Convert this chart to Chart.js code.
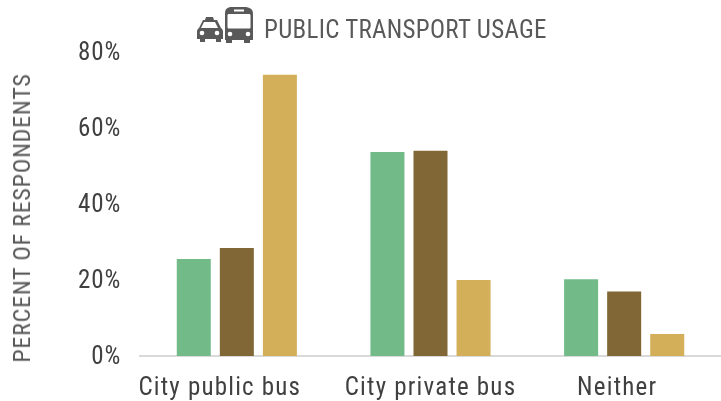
<!DOCTYPE html>
<html>
<head>
<meta charset="utf-8">
<style>
  html, body { margin: 0; padding: 0; background: #fff; }
  #wrap { position: relative; width: 721px; height: 401px; overflow: hidden; }
  canvas { position: absolute; left: 0; top: 0; }
  .label { position: absolute; font-family: "Roboto Condensed", Roboto, sans-serif; color: #595959; white-space: nowrap; }
  #title { left: 264px; top: 14px; font-size: 25px; line-height: 32px; letter-spacing: 0.3px; }
  #yTitle { left: 22px; top: 218px; font-size: 24px; line-height: 30px; letter-spacing: 0.8px; transform: translate(-50%, -50%) rotate(-90deg); }
  #icons { position: absolute; left: 196px; top: 6px; }
</style>
<script src="https://cdn.jsdelivr.net/npm/chart.js@4"></script>
</head>
<body>
<div id="wrap">
  <canvas id="chart" width="721" height="401"></canvas>
  <svg id="icons" width="60" height="38" viewBox="0 0 60 38">
    <!-- taxi -->
    <path fill="#595959" d="M10 11h7l1 3h3l4 8c1.500 1 2 2 2 4v7h-2v3h-5v-3H9v3H4v-3H1v-7c0-2 .5-3 2-4l4-8h2z"/>
    <path fill="#fff" d="M8 16h11l3 6H5z"/>
    <circle cx="6" cy="27" r="2.300" fill="#fff"/>
    <circle cx="21" cy="27" r="2.300" fill="#fff"/>
    <!-- bus -->
    <path fill="#595959" d="M36 1h12c6 0 9 2 9 7v26h-3v3h-6v-3H36v3h-6v-3h-1V8c0-5 2-7 7-7z"/>
    <rect x="38" y="3.500" width="10" height="2" fill="#fff"/>
    <path fill="#fff" d="M33 8h20c1 0 1.500 .5 1.500 1.500V21c0 1-.5 1.500-1.500 1.500H33c-1 0-1.500-.5-1.500-1.500V9.500C31.500 8.500 32 8 33 8z"/>
    <circle cx="34" cy="28" r="2.300" fill="#fff"/>
    <circle cx="52" cy="28" r="2.300" fill="#fff"/>
  </svg>
  <div id="title" class="label">PUBLIC TRANSPORT USAGE</div>
  <div id="yTitle" class="label">PERCENT OF RESPONDENTS</div>
</div>
<script>
const categories = ['City public bus', 'City private bus', 'Neither'];
const greenValues = [25.5, 53.7, 20.2];
const brownValues = [28.4, 54, 17];
const goldValues = [74, 20, 5.8];
const yTicks = [0, 20, 40, 60, 80];
const xLabelShift = [-17, 0, -7];

const tickFont = { family: '"Roboto Condensed", Roboto, sans-serif', size: 25 };
const tickColor = '#404040';

const makeDataset = (data, color) => ({
  data,
  backgroundColor: color,
  barPercentage: 0.79,
  categoryPercentage: 0.667,
});

// letter spacing isn't a Chart.js font option, so set it on the context
const spacing = {
  id: 'spacing',
  beforeDraw(chart) { chart.ctx.letterSpacing = '0.8px'; },
};

// the category labels don't sit centred under their groups in the original
const xLabels = {
  id: 'xLabels',
  afterDraw(chart) {
    const { ctx, scales: { x } } = chart;
    ctx.save();
    ctx.font = `${tickFont.size}px ${tickFont.family}`;
    ctx.letterSpacing = '1.2px';
    ctx.fillStyle = tickColor;
    ctx.textAlign = 'center';
    ctx.textBaseline = 'alphabetic';
    categories.forEach((label, i) => {
      ctx.fillText(label, x.getPixelForTick(i) + xLabelShift[i], x.top + 39);
    });
    ctx.restore();
  },
};

new Chart(document.getElementById('chart').getContext('2d'), {
  type: 'bar',
  data: {
    labels: categories,
    datasets: [
      makeDataset(greenValues, '#72ba88'),
      makeDataset(brownValues, '#806735'),
      makeDataset(goldValues, '#d3af59'),
    ],
  },
  options: {
    responsive: false,
    animation: false,
    layout: { padding: { top: 52, right: 0, bottom: 0, left: 0 } },
    plugins: { legend: { display: false }, title: { display: false }, tooltip: { enabled: false } },
    scales: {
      x: {
        grid: { display: false, drawTicks: false },
        border: { color: '#d9d9d9', width: 2 },
        ticks: { display: false },
        afterFit(scale) { scale.height = 45; },
      },
      y: {
        min: 0,
        max: 80,
        afterBuildTicks(scale) { scale.ticks = yTicks.map(value => ({ value })); },
        grid: { display: false, drawTicks: false },
        border: { display: false },
        ticks: { color: tickColor, font: tickFont, padding: 19, labelOffset: 2, callback: v => v + '%' },
        afterFit(scale) { scale.width = 140; },
      },
    },
  },
  plugins: [spacing, xLabels],
});
</script>
</body>
</html>
